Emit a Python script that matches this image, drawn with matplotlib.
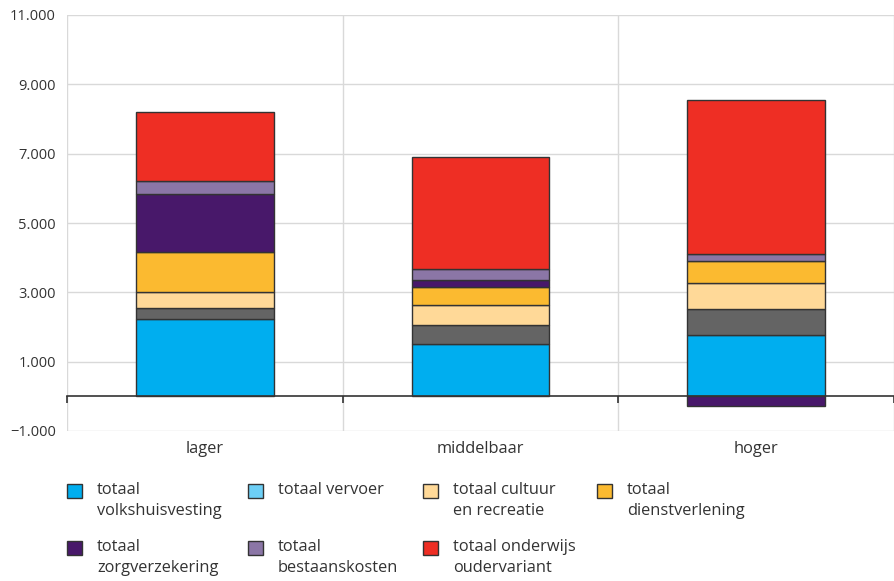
import matplotlib
matplotlib.use("Agg")
import matplotlib.pyplot as plt
from matplotlib.patches import Rectangle
from matplotlib.ticker import FuncFormatter

plt.rcParams['font.family'] = ['Open Sans', 'DejaVu Sans']

categories = ["lager", "middelbaar", "hoger"]
volkshuisvesting = [2225, 1500, 1765]
vervoer = [330, 560, 765]
cultuur_recreatie = [450, 585, 725]
dienstverlening = [1155, 520, 645]
zorgverzekering = [1675, 195, -290]
bestaanskosten = [390, 305, 210]
onderwijs_oudervariant = [1975, 3235, 4450]
y_ticks = [-1000, 1000, 3000, 5000, 7000, 9000, 11000]

# (legend label, values, bar colour, legend swatch colour)
series = [
    ("totaal\nvolkshuisvesting", volkshuisvesting, "#00aeef", "#00aeef"),
    ("totaal vervoer", vervoer, "#646464", "#6dcff6"),
    ("totaal cultuur\nen recreatie", cultuur_recreatie, "#ffd998", "#ffd998"),
    ("totaal\ndienstverlening", dienstverlening, "#fbba30", "#fbba30"),
    ("totaal\nzorgverzekering", zorgverzekering, "#48186a", "#48186a"),
    ("totaal\nbestaanskosten", bestaanskosten, "#8b76a6", "#8b76a6"),
    ("totaal onderwijs\noudervariant", onderwijs_oudervariant, "#ee2e24", "#ee2e24"),
]

W, H = 894, 581
fig = plt.figure(figsize=(W / 100, H / 100), dpi=100)
ax = fig.add_axes([67 / W, 1 - 431 / H, 827 / W, 416 / H])

x = list(range(len(categories)))
pos_base = [0.0] * len(categories)
neg_base = [0.0] * len(categories)
for label, vals, col, _ in series:
    bottoms = []
    for i, v in enumerate(vals):
        if v >= 0:
            bottoms.append(pos_base[i])
            pos_base[i] += v
        else:
            bottoms.append(neg_base[i])
            neg_base[i] += v
    ax.bar(x, vals, bottom=bottoms, width=0.5, color=col,
           edgecolor="#333333", linewidth=1, zorder=3)

ax.set_xlim(-0.5, 2.48)
ax.set_ylim(-1000, 11000)

for s in ["top", "right", "left"]:
    ax.spines[s].set_visible(False)
ax.spines["bottom"].set_position(("data", 0))
ax.spines["bottom"].set_color("#333333")
ax.spines["bottom"].set_linewidth(1.2)
ax.spines["bottom"].set_zorder(4)

ax.set_xticks(x)
ax.set_xticklabels(categories, fontsize=11.8, color="#333333")
ax.set_xticks([-0.5, 0.5, 1.5, 2.5], minor=True)
ax.tick_params(axis="x", which="major", length=0, pad=32)
ax.tick_params(axis="x", which="minor", length=5, width=1.2,
               color="#333333", direction="out")

ax.set_yticks(y_ticks)
ax.yaxis.set_major_formatter(FuncFormatter(
    lambda v, p: f"{int(v):,}".replace(",", ".").replace("-", "\u2212")))
ax.tick_params(axis="y", length=0, pad=8, labelsize=10.5, labelcolor="#333333")

ax.grid(axis="y", color="#d9d9d9", linewidth=1)
ax.grid(axis="x", which="minor", color="#d9d9d9", linewidth=1)
ax.set_axisbelow(True)

# legend drawn by hand: 4 columns, 2 rows
col_x = [67, 248, 423, 597]
row_y = [491, 548]
for k, (label, vals, col, swatch) in enumerate(series):
    r, c = divmod(k, 4)
    sx, sy = col_x[c], row_y[r]
    fig.add_artist(Rectangle((sx / W, 1 - (sy + 7) / H), 15 / W, 14 / H,
                             transform=fig.transFigure, facecolor=swatch,
                             edgecolor="#333333", linewidth=1))
    fig.text((sx + 30) / W, 1 - (sy - 9) / H, label, fontsize=11.8,
             color="#333333", va="top", ha="left", linespacing=1.42)

fig.savefig("out.png", dpi=100)
